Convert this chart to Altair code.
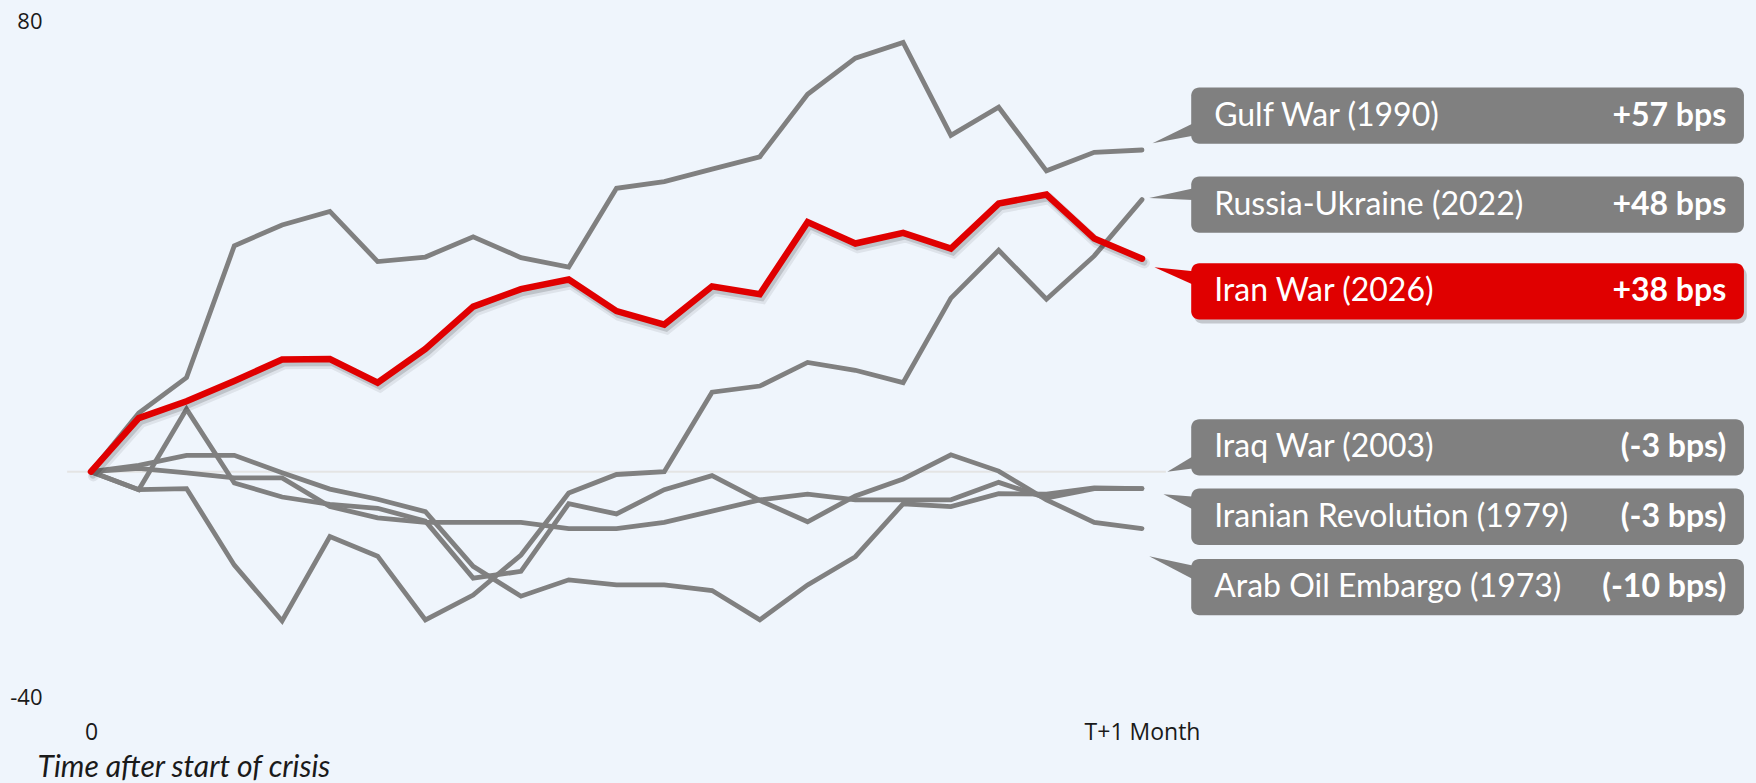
import altair as alt
import pandas as pd

# ---------------- data ----------------
days = list(range(23))  # trading days after the start of the crisis (0 .. T+1 month)

gulf_1990 = [0, 10.4, 16.7, 40.1, 43.8, 46.2, 37.3, 38.1, 41.7, 38.0, 36.3, 50.3,
             51.5, 53.7, 55.9, 67.0, 73.4, 76.2, 59.7, 64.7, 53.4, 56.7, 57.1]
russia_2022 = [0, -3.2, -3.0, -16.6, -26.5, -11.5, -15.0, -26.3, -21.9, -14.8, -3.8, -0.5,
               0.0, 14.1, 15.2, 19.4, 18.0, 15.8, 30.8, 39.3, 30.6, 38.3, 48.3]
iran_2026 = [0, 9.5, 12.5, 16.1, 19.9, 20.0, 15.8, 21.8, 29.3, 32.4, 34.1, 28.5,
             26.1, 32.9, 31.5, 44.3, 40.5, 42.4, 39.6, 47.6, 49.2, 41.4, 37.8]
iraq_2003 = [0, 0.6, -0.2, -1.1, -1.1, -6.2, -8.2, -9.0, -9.0, -9.0, -10.1, -10.1,
             -9.0, -7.0, -5.0, -4.0, -5.0, -5.0, -5.0, -1.9, -4.7, -3.0, -3.0]
iran_rev_1979 = [0, 1.1, 2.9, 2.9, -0.2, -3.1, -4.9, -7.1, -16.8, -22.1, -19.2, -20.1,
                 -20.1, -21.1, -26.3, -20.1, -15.1, -5.7, -6.2, -3.9, -4.0, -2.9, -3.0]
arab_1973 = [0, -3.2, 11.1, -2.0, -4.5, -5.8, -6.5, -8.8, -18.9, -17.7, -5.7, -7.5,
             -3.2, -0.7, -5.1, -8.9, -4.3, -1.3, 3.0, 0.1, -5.0, -9.0, -10.1]

events = ["Gulf War (1990)", "Russia-Ukraine (2022)", "Iran War (2026)",
          "Iraq War (2003)", "Iranian Revolution (1979)", "Arab Oil Embargo (1973)"]
changes = ["+57 bps", "+48 bps", "+38 bps", "(-3 bps)", "(-3 bps)", "(-10 bps)"]
series = [gulf_1990, russia_2022, iran_2026, iraq_2003, iran_rev_1979, arab_1973]
highlight = [False, False, True, False, False, False]

y_ticks = [-40, 80]
x_ticks = [0, 22]

# ---------------- label layout (annotation positions, in axis units) ----------------
label_mid = [63.2, 47.4, 32.0, 4.3, -8.0, -20.5]
tip_x = [22.22, 22.15, 22.26, 22.53, 22.45, 22.15]
tip_y = [58.3, 48.6, 36.3, 0.0, -4.0, -15.0]
base_hi = [62.3, 50.5, 35.5, 3.3, -4.5, -16.9]
base_lo = [59.8, 48.2, 32.8, 0.7, -7.2, -19.6]
BOX_X0, BOX_X1 = 23.03, 34.6
NAME_X, VALUE_X = 23.51, 34.23
BOX_HALF = 5.0

GREY = "#808080"
RED = "#E00000"
BG = "#EFF5FC"

# ---------------- tables ----------------
rows = []
for ev, vals, hi in zip(events, series, highlight):
    for d, v in zip(days, vals):
        rows.append({"event": ev, "day": d, "value": v, "hi": hi})
df = pd.DataFrame(rows)
grey_df = df[~df["hi"]]
red_df = df[df["hi"]]

lab = pd.DataFrame({
    "event": events, "change": changes, "mid": label_mid,
    "color": [RED if h else GREY for h in highlight], "hi": highlight,
})
lab["btop"] = lab["mid"] + BOX_HALF
lab["bbot"] = lab["mid"] - BOX_HALF
lab["bx0"] = BOX_X0
lab["bx1"] = BOX_X1
lab["nx"] = NAME_X
lab["vx"] = VALUE_X

call_rows = []
for ev, h, tx, ty, bh, bl in zip(events, highlight, tip_x, tip_y, base_hi, base_lo):
    c = RED if h else GREY
    call_rows.append({"event": ev, "cx": tx, "cy": ty, "cy2": ty, "color": c})
    call_rows.append({"event": ev, "cx": BOX_X0 + 0.15, "cy": bh, "cy2": bl, "color": c})
call_df = pd.DataFrame(call_rows)

zero_df = pd.DataFrame({"x0": [-0.5], "x1": [22.5], "y": [0]})

# ---------------- scales / axes ----------------
xscale = alt.Scale(domain=[0, 22], nice=False, zero=False)
yscale = alt.Scale(domain=[-40, 80], nice=False, zero=False)
xaxis = alt.Axis(values=x_ticks, labelExpr="datum.value == 0 ? '0' : 'T+1 Month'",
                 domain=False, ticks=False, tickSize=0, grid=False,
                 labelFont="Open Sans", labelFontSize=23, labelColor="#1a1a1a",
                 labelBaseline="alphabetic", labelPadding=42, labelFlush=False,
                 labelOverlap=False,
                 title="Time after start of crisis", titleFont="Lato",
                 titleFontStyle="italic", titleFontWeight="normal", titleFontSize=30,
                 titleColor="#1a1a1a", titleAlign="left", titleAnchor="start",
                 titleBaseline="alphabetic", titleX=-54, titleY=79)
yaxis = alt.Axis(values=y_ticks, domain=False, ticks=False, tickSize=0, grid=False,
                 labelExpr="datum.value < 0 ? '-' + format(-datum.value, 'd') : format(datum.value, 'd')",
                 labelFont="Open Sans", labelFontSize=22, labelColor="#1a1a1a",
                 labelBaseline="middle", labelPadding=49, labelFlush=False,
                 labelOverlap=False, title=None)


def X(f):
    return alt.X(f, type="quantitative", scale=xscale, axis=xaxis)


def Y(f):
    return alt.Y(f, type="quantitative", scale=yscale, axis=yaxis)


zero_rule = alt.Chart(zero_df).mark_rule(color="#E4E4E4", strokeWidth=2).encode(
    x=X("x0"), x2="x1", y=Y("y"))

grey_lines = alt.Chart(grey_df).mark_line(
    color=GREY, strokeWidth=4.8, strokeCap="round").encode(
    x=X("day"), y=Y("value"), detail="event:N", order="day:Q")

red_shadow1 = alt.Chart(red_df).transform_calculate(
    sx="datum.day + 0.05", sy="datum.value - 0.75").mark_line(
    color="#000000", opacity=0.07, strokeWidth=11, strokeCap="round").encode(
    x=X("sx"), y=Y("sy"), order="day:Q")
red_shadow2 = alt.Chart(red_df).transform_calculate(
    sx="datum.day + 0.04", sy="datum.value - 0.6").mark_line(
    color="#000000", opacity=0.14, strokeWidth=7, strokeCap="round").encode(
    x=X("sx"), y=Y("sy"), order="day:Q")
red_line = alt.Chart(red_df).mark_line(
    color=RED, strokeWidth=6.5, strokeCap="round").encode(
    x=X("day"), y=Y("value"), order="day:Q")

callouts = alt.Chart(call_df).mark_area(opacity=1).encode(
    x=X("cx"), y=Y("cy"), y2="cy2", detail="event:N",
    color=alt.Color("color:N", scale=None))

box_shadow = alt.Chart(lab[lab["hi"]]).transform_calculate(
    sx0="datum.bx0 + 0.06", sx1="datum.bx1 + 0.06",
    st="datum.btop - 0.7", sb="datum.bbot - 0.7").mark_rect(
    cornerRadius=8, color="#000000", opacity=0.18).encode(
    x=X("sx0"), x2="sx1", y=Y("st"), y2="sb")

boxes = alt.Chart(lab).mark_rect(cornerRadius=8).encode(
    x=X("bx0"), x2="bx1", y=Y("btop"), y2="bbot",
    color=alt.Color("color:N", scale=None))

names = alt.Chart(lab).mark_text(
    align="left", baseline="middle", font="Lato", fontSize=32, color="white").encode(
    x=X("nx"), y=Y("mid"), text="event:N")

values = alt.Chart(lab).mark_text(
    align="right", baseline="middle", font="Lato", fontSize=32, fontWeight="bold",
    color="white").encode(
    x=X("vx"), y=Y("mid"), text="change:N")

chart = alt.layer(
    zero_rule, grey_lines, red_shadow1, red_shadow2, red_line,
    callouts, box_shadow, boxes, names, values
).properties(
    width=1051, height=676,
    padding={"left": 91, "top": 21, "right": 614, "bottom": 86},
    autosize=alt.AutoSizeParams(type="none"),
    background=BG,
).configure_view(stroke=None)

chart.save("out.html", embed_options={"renderer": "svg", "actions": False})
